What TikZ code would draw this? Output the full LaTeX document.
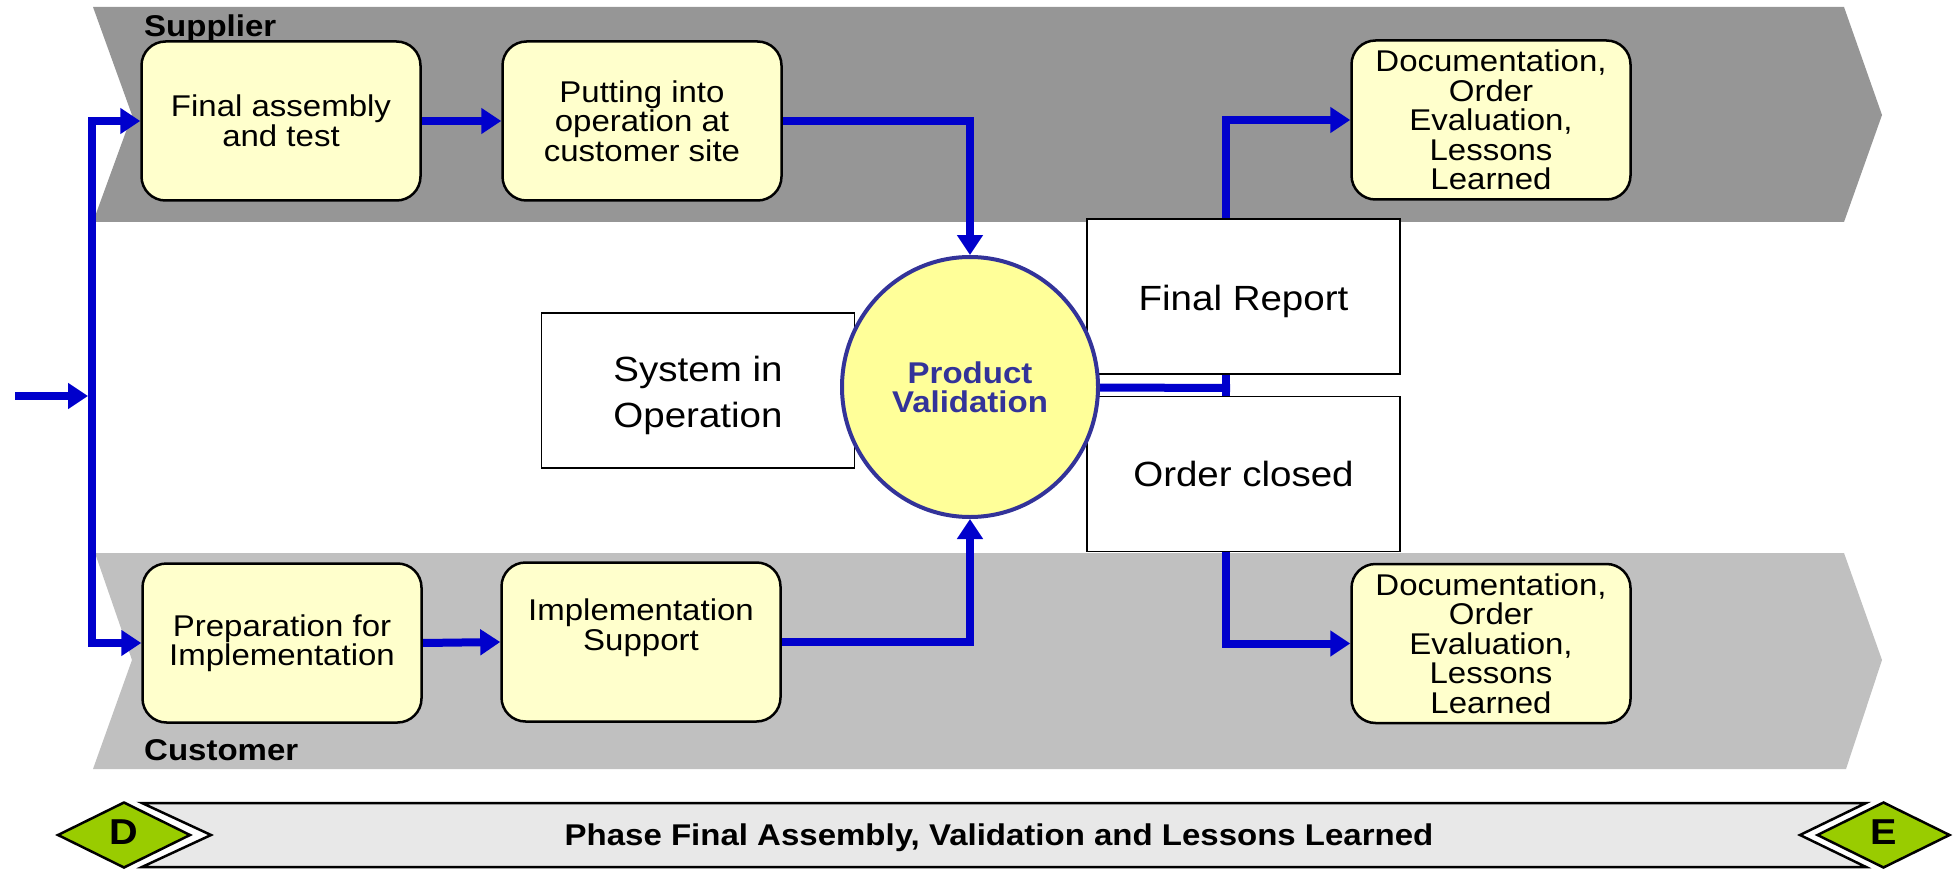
\documentclass[tikz,border=0pt]{standalone}
\usepackage{fontspec}
\setmainfont[FakeStretch=1.1]{Liberation Sans}
\usetikzlibrary{arrows.meta,shapes.geometric}
\pgfdeclarelayer{bands}
\pgfdeclarelayer{links}
\pgfsetlayers{bands,links,main}
\definecolor{bandA}{RGB}{150,150,150}
\definecolor{bandB}{RGB}{192,192,192}
\definecolor{boxY}{RGB}{255,255,204}
\definecolor{circY}{RGB}{255,255,153}
\definecolor{circB}{RGB}{51,51,153}
\definecolor{flow}{RGB}{0,0,204}
\definecolor{barG}{RGB}{232,232,232}
\definecolor{diaG}{RGB}{153,204,0}
\begin{document}
\begin{tikzpicture}[x=1pt,y=-1pt,
  ybox/.style={draw=black,line width=2.5pt,fill=boxY,rounded corners=24pt,
    minimum width=279pt,minimum height=159pt,inner sep=0pt,align=center,
    font=\fontsize{30}{29.5}\selectfont},
  wbox/.style={draw=black,line width=1.6pt,fill=white,minimum width=313pt,
    minimum height=155pt,inner sep=0pt,align=center,
    font=\fontsize{35}{46}\selectfont},
  pvnode/.style={ellipse,draw=circB,line width=4pt,fill=circY,
    minimum width=256pt,minimum height=260pt,inner sep=0pt,align=center,
    text=circB,font=\fontsize{30}{29}\selectfont\bfseries},
  lanetitle/.style={font=\fontsize{30}{30}\selectfont\bfseries,anchor=base west,inner sep=0pt},
  flowline/.style={draw=flow,line width=8pt},
  flowarrow/.style={flowline,-{Triangle[length=20pt,width=25pt]}},
  dia/.style={diamond,draw=black,line width=2.5pt,fill=diaG,minimum width=133pt,
    minimum height=66pt,inner sep=0pt,font=\fontsize{36}{36}\selectfont\bfseries},
  phasetext/.style={font=\fontsize{30}{30}\selectfont\bfseries,inner sep=0pt}
]
\useasboundingbox (0,0) rectangle (1954,869);

% swim lanes
\begin{pgfonlayer}{bands}
\fill[bandA] (93,7) -- (1844,7) -- (1882,115) -- (1844,222) -- (93,222) -- (132,115) -- cycle;
\fill[bandB] (95,553) -- (1844,553) -- (1882,660) -- (1846,769) -- (93,769) -- (132,660) -- cycle;
\end{pgfonlayer}

\node[lanetitle] (sup) at (144,37) {Supplier};
\node[lanetitle] (cus) at (144,760) {Customer};

% process boxes
\node[ybox] (fa) at (281,121) {Final assembly\\and test};
\node[ybox] (pu) at (642,121) {Putting into\\operation at\\customer site};
\node[ybox] (doc1) at (1491,120) {Documentation,\\Order\\Evaluation,\\Lessons\\Learned};
\node[ybox] (prep) at (282,643) {Preparation for\\Implementation};
\node[ybox] (impl) at (641,642) {\raisebox{13pt}[\height][\depth]{\begin{tabular}{@{}c@{}}Implementation\\Support\end{tabular}}};
\node[ybox] (doc2) at (1491,643.5) {Documentation,\\Order\\Evaluation,\\Lessons\\Learned};

% white boxes
\node[wbox] (sys) at (698,390.5) {\raisebox{-5pt}[\height][\depth]{\begin{tabular}{@{}c@{}}System in\\Operation\end{tabular}}};
\node[wbox] (fr) at (1243.5,296.5) {\raisebox{-5pt}[\height][\depth]{Final Report}};
\node[wbox] (oc) at (1243.5,474) {Order closed};

% central circle
\node[pvnode] (pv) at (970,387) {Product\\Validation};

% connectors
\begin{pgfonlayer}{links}
\coordinate (in) at (15,396);
\coordinate (split) at (92,396);
\coordinate (join) at (1226,388);
\draw[flowarrow] (in) -- ([xshift=-4pt]split);
\draw[flowarrow] (split) |- (fa.west);
\draw[flowarrow] (split) |- (prep.west);
\draw[flowarrow] (fa.east) -- (pu.west);
\draw[flowarrow] (prep.east) -- (impl.west);
\draw[flowarrow] (pu.east) -| (pv.north);
\draw[flowarrow] (impl.east) -| (pv.south);
\draw[flowline] (pv.center) -- ([xshift=4pt]join);
\draw[flowarrow] (join) |- (doc1.west);
\draw[flowarrow] (join) |- (doc2.west);
\end{pgfonlayer}

% phase bar
\filldraw[fill=barG,draw=black,line width=2.5pt]
  (142,803) -- (1866,803) -- (1800,835) -- (1866,867) -- (142,867) -- (211,835) -- cycle;
\node[phasetext] (ph) at (999,838) {Phase Final Assembly, Validation and Lessons Learned};
\node[dia] (dD) at (124,835) {\raisebox{3pt}[\height][\depth]{D}};
\node[dia] (dE) at (1883.5,835) {\raisebox{3pt}[\height][\depth]{E}};
\end{tikzpicture}
\end{document}
